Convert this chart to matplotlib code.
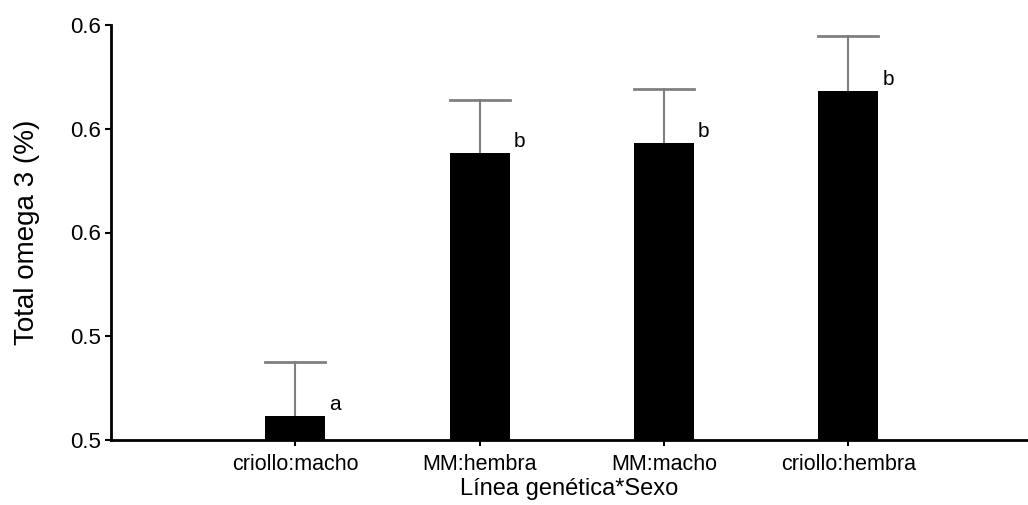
import matplotlib
matplotlib.use("Agg")
import matplotlib.pyplot as plt
import numpy as np

categories = ["criollo:macho", "MM:hembra", "MM:macho", "criollo:hembra"]
means = [0.507, 0.583, 0.586, 0.601]
errors = [0.0156, 0.0153, 0.0156, 0.0159]
letters = ["a", "b", "b", "b"]
yticks = [0.50, 0.53, 0.56, 0.59, 0.62]

plt.rcParams['font.family'] = ['Liberation Sans', 'DejaVu Sans']

fig = plt.figure(figsize=(10.28, 5.05), dpi=100)
ax = fig.add_axes([111/1028, 1 - 440/505, (1028 - 111)/1028, (440 - 25)/505])

x = np.arange(len(categories))
bw = 0.326
ax.bar(x, [m - 0.50 for m in means], bottom=0.50, width=bw, color='black', zorder=2)
for xi, m, e in zip(x, means, errors):
    ax.plot([xi, xi], [m, m + e], color='#808080', lw=1.5, zorder=1)
    ax.plot([xi - bw/2, xi + bw/2], [m + e, m + e], color='#808080', lw=2, zorder=1)
for xi, m, l in zip(x, means, letters):
    ax.annotate(l, (xi + bw/2, m), xytext=(3, 4), textcoords='offset points',
                fontsize=15, ha='left', va='baseline')

ax.set_xlim(-1, 3.975)
ax.set_ylim(0.50, 0.62)
ax.set_yticks(yticks)
ax.set_yticklabels([f"{v:.1f}" for v in yticks], fontsize=16)
ax.set_xticks(x)
ax.set_xticklabels(categories, fontsize=15.5)
ax.tick_params(axis='both', direction='out', length=4, width=1.5, colors='black')
ax.tick_params(axis='y', pad=3)
ax.tick_params(axis='x', pad=6)
for s in ['top', 'right']:
    ax.spines[s].set_visible(False)
for s in ['left', 'bottom']:
    ax.spines[s].set_linewidth(2)
ax.set_ylabel("Total omega 3 (%)", fontsize=20, labelpad=22)
ax.set_xlabel("Línea genética*Sexo", fontsize=17, labelpad=2)

fig.savefig("out.png", dpi=100)
